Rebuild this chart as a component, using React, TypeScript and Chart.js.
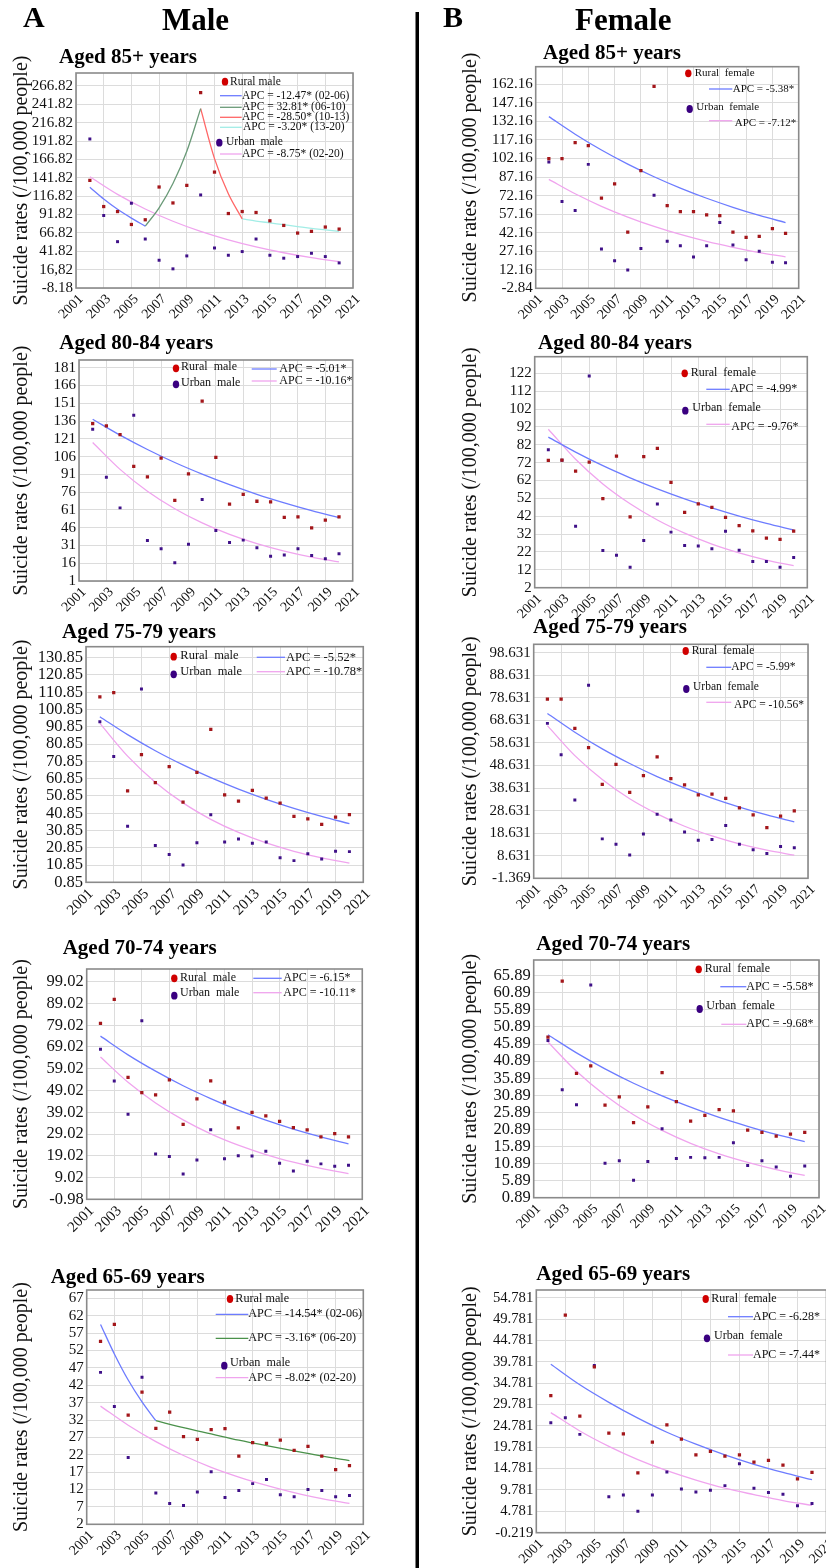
import React, { useEffect, useRef } from "react";
import { Chart, registerables } from "chart.js";

Chart.register(...registerables);

const FONT = '"Liberation Serif", "Times New Roman", Times, serif';

// ---------- shared axis data ----------
const years = [2002, 2003, 2004, 2005, 2006, 2007, 2008, 2009, 2010, 2011, 2012, 2013, 2014, 2015, 2016, 2017, 2018, 2019, 2020];
const evenYears = [2002, 2004, 2006, 2008, 2010, 2012, 2014, 2016, 2018, 2020];
const xTickYears = [2001, 2003, 2005, 2007, 2009, 2011, 2013, 2015, 2017, 2019, 2021];
const yTitle = "Suicide rates (/100,000 people)";

// ---------- Male, aged 85+ ----------
const m85Ticks = ["-8.18", "16,82", "41.82", "66.82", "91.82", "116.82", "141.82", "166.82", "191.82", "216.82", "241.82", "266.82"];
const m85Rural = [138.3, 102.7, 95.9, 78.3, 84.7, 129.3, 107.6, 131.5, 257.8, 149.6, 93.2, 95.9, 94.6, 83.3, 77.0, 66.6, 68.9, 74.8, 72.0];
const m85Urban = [194.7, 90.5, 54.9, 107.2, 58.5, 29.6, 17.9, 35.5, 118.5, 46.3, 36.4, 41.4, 58.5, 36.4, 32.4, 34.6, 39.1, 34.6, 26.0];
const m85FitYears1 = [2002, 2003, 2004, 2005, 2006];
const m85Fit1 = [129, 113, 99, 87, 76];
const m85FitYears2 = [2006, 2007, 2008, 2009, 2010];
const m85Fit2 = [76, 101, 134, 178, 236];
const m85FitYears3 = [2010, 2011, 2012, 2013];
const m85Fit3 = [236, 168, 120, 86];
const m85FitYears4 = [2013, 2014, 2015, 2016, 2017, 2018, 2019, 2020];
const m85Fit4 = [86, 83, 80.5, 78, 75.5, 73, 71, 69];
const m85UrbanFit = [143.3, 119.3, 99.4, 82.7, 68.9, 57.4, 47.8, 39.8, 33.1, 27.6];

// ---------- Female, aged 85+ ----------
const f85Ticks = ["-2.84", "12.16", "27.16", "42.16", "57.16", "72.16", "87.16", "102.16", "117.16", "132.16", "147.16", "162.16"];
const f85Rural = [102.0, 102.0, 115.0, 112.6, 70.0, 81.6, 42.5, 92.3, 160.5, 64.0, 59.2, 59.2, 56.5, 56.0, 42.5, 38.4, 39.2, 45.4, 41.6];
const f85Urban = [99.3, 67.3, 60.0, 97.4, 29.0, 19.5, 12.0, 29.3, 72.4, 35.2, 31.6, 22.5, 31.6, 50.3, 32.1, 20.3, 27.1, 18.2, 17.9];
const f85RuralFit = [136.0, 121.8, 109.0, 97.6, 87.4, 78.2, 70.0, 62.7, 56.1, 50.3];
const f85UrbanFit = [85.3, 73.6, 63.5, 54.8, 47.2, 40.7, 35.1, 30.3, 26.1, 22.6];

// ---------- Male, aged 80-84 ----------
const m80Ticks = ["1", "16", "31", "46", "61", "76", "91", "106", "121", "136", "151", "166", "181"];
const m80Rural = [133.9, 131.9, 124.6, 97.7, 88.8, 104.7, 69.1, 91.3, 152.7, 105.3, 65.8, 74.2, 68.3, 67.7, 54.6, 55.1, 45.9, 52.3, 55.1];
const m80Urban = [129.1, 88.5, 62.7, 140.9, 35.2, 28.2, 16.4, 32.1, 69.7, 43.6, 33.5, 35.5, 29.0, 21.8, 22.9, 28.2, 22.6, 19.8, 24.0];
const m80RuralFit = [137.5, 124.1, 112.0, 101.0, 91.2, 82.3, 74.2, 67.0, 60.4, 54.5];
const m80UrbanFit = [117.9, 95.2, 76.8, 62.0, 50.0, 40.4, 32.6, 26.3, 21.2, 17.1];

// ---------- Female, aged 80-84 ----------
const f80Ticks = ["2", "12", "22", "32", "42", "52", "62", "72", "82", "92", "102", "112", "122"];
const f80Rural = [73.3, 73.4, 67.3, 72.3, 51.9, 75.7, 41.6, 75.3, 80.0, 61.0, 44.2, 48.9, 47.0, 41.3, 36.8, 33.8, 29.7, 29.0, 33.6];
const f80Urban = [79.2, 73.4, 36.4, 120.5, 22.8, 20.2, 13.5, 28.4, 48.9, 33.1, 25.6, 25.3, 23.8, 33.6, 23.0, 16.7, 16.7, 13.5, 18.9];
const f80RuralFit = [86.3, 77.9, 70.3, 63.5, 57.3, 51.7, 46.7, 42.1, 38.0, 34.3];
const f80UrbanFit = [90.7, 73.9, 60.1, 49.0, 39.9, 32.5, 26.4, 21.5, 17.5, 14.3];

// ---------- Male, aged 75-79 ----------
const m75Ticks = ["0.85", "10.85", "20.85", "30.85", "40.85", "50.85", "60.85", "70.85", "80.85", "90.85", "100.85", "110.85", "120.85", "130.85"];
const m75Rural = [108.1, 110.6, 53.7, 74.7, 58.5, 67.8, 47.3, 64.5, 89.4, 51.4, 47.9, 54.1, 49.6, 46.7, 39.0, 37.5, 34.4, 38.5, 40.0];
const m75Urban = [93.8, 73.6, 33.3, 112.7, 22.1, 16.9, 10.9, 23.8, 40.0, 24.2, 25.9, 23.4, 24.2, 15.1, 13.4, 17.4, 14.3, 18.8, 18.6];
const m75RuralFit = [96.7, 86.3, 77.0, 68.8, 61.4, 54.8, 48.9, 43.7, 39.0, 34.8];
const m75UrbanFit = [92.8, 73.9, 58.8, 46.8, 37.3, 29.7, 23.6, 18.8, 15.0, 11.9];

// ---------- Female, aged 75-79 ----------
const f75Ticks = ["-1.369", "8.631", "18.631", "28.631", "38.631", "48.631", "58.631", "68.631", "78.631", "88.631", "98.631"];
const f75Rural = [78.1, 78.1, 65.1, 56.5, 40.3, 49.1, 36.7, 44.1, 52.5, 42.8, 40.0, 35.6, 35.9, 34.1, 29.9, 26.7, 21.1, 26.2, 28.5];
const f75Urban = [67.3, 53.4, 33.3, 84.2, 16.1, 13.7, 9.0, 18.3, 27.0, 24.5, 19.2, 15.5, 15.8, 22.0, 13.7, 11.3, 9.6, 12.7, 12.2];
const f75RuralFit = [71.7, 63.4, 56.0, 49.5, 43.7, 38.7, 34.2, 30.2, 26.7, 23.6];
const f75UrbanFit = [66.3, 53.0, 42.4, 33.9, 27.2, 21.7, 17.4, 13.9, 11.1, 8.9];

// ---------- Male, aged 70-74 ----------
const m70Ticks = ["-0.98", "9.02", "19.02", "29.02", "39.02", "49.02", "59.02", "69.02", "79.02", "89.02", "99.02"];
const m70Rural = [79.9, 90.9, 55.1, 48.0, 47.0, 53.9, 33.4, 45.2, 53.4, 43.7, 31.8, 39.0, 37.4, 34.8, 32.0, 30.9, 27.7, 29.2, 27.7];
const m70Urban = [68.0, 53.4, 38.1, 81.1, 19.8, 18.7, 10.6, 17.1, 31.0, 17.7, 19.0, 18.9, 21.1, 15.6, 12.0, 16.5, 15.3, 14.2, 14.7];
const m70RuralFit = [74.0, 65.4, 57.9, 51.2, 45.3, 40.0, 35.4, 31.3, 27.7, 24.5];
const m70UrbanFit = [64.4, 52.8, 43.3, 35.5, 29.1, 23.9, 19.6, 16.1, 13.2, 10.8];

// ---------- Female, aged 70-74 ----------
const f70Ticks = ["0.89", "5.89", "10.89", "15.89", "20.89", "25.89", "30.89", "35.89", "40.89", "45.89", "50.89", "55.89", "60.89", "65.89"];
const f70Rural = [47.9, 64.3, 37.3, 39.5, 28.0, 30.4, 22.9, 27.5, 37.5, 29.0, 23.3, 25.0, 26.7, 26.3, 20.7, 20.0, 18.9, 19.5, 20.0];
const f70Urban = [46.9, 32.5, 28.1, 63.2, 11.0, 11.7, 6.0, 11.5, 21.1, 12.4, 12.7, 12.6, 12.7, 17.0, 10.3, 11.7, 9.9, 7.2, 10.2];
const f70RuralFit = [48.6, 43.3, 38.6, 34.4, 30.7, 27.4, 24.4, 21.8, 19.4, 17.3];
const f70UrbanFit = [46.5, 37.9, 30.9, 25.2, 20.6, 16.8, 13.7, 11.2, 9.1, 7.4];

// ---------- Male, aged 65-69 ----------
const m65Ticks = ["2", "7", "12", "17", "22", "27", "32", "37", "42", "47", "52", "57", "62", "67"];
const m65Rural = [54.6, 59.5, 33.4, 40.0, 29.6, 34.3, 27.2, 26.4, 29.2, 29.5, 21.6, 25.5, 25.3, 26.2, 23.3, 24.4, 21.6, 17.7, 18.9];
const m65Urban = [45.7, 35.9, 21.2, 44.3, 11.0, 8.0, 7.4, 11.3, 17.1, 9.7, 11.7, 13.7, 14.9, 10.5, 9.9, 12.0, 11.7, 9.9, 10.3];
const m65FitYears1 = [2002, 2003, 2004, 2005, 2006];
const m65Fit1 = [59.5, 51.0, 43.5, 37.2, 31.8];
const m65FitYears2 = [2006, 2008, 2010, 2012, 2014, 2016, 2018, 2020];
const m65Fit2 = [31.8, 29.8, 28.0, 26.2, 24.6, 23.1, 21.6, 20.3];
const m65UrbanFit = [36.0, 30.5, 25.8, 21.8, 18.4, 15.6, 13.2, 11.1, 9.4, 8.0];

// ---------- Female, aged 65-69 ----------
const f65Ticks = ["-0.219", "4.781", "9.781", "14.781", "19.781", "24.781", "29.781", "34.781", "39.781", "44.781", "49.781", "54.781"];
const f65Rural = [31.9, 50.7, 27.1, 38.6, 23.1, 22.9, 13.8, 21.0, 25.0, 21.7, 18.0, 18.8, 17.7, 18.0, 16.3, 16.7, 15.6, 12.4, 13.9];
const f65Urban = [25.5, 26.7, 22.8, 38.9, 8.2, 8.6, 4.8, 8.6, 14.0, 10.0, 9.3, 9.7, 10.8, 15.9, 10.2, 9.2, 8.8, 6.1, 6.6];
const f65RuralFit = [39.2, 34.4, 30.3, 26.6, 23.3, 20.5, 18.0, 15.8, 13.9, 12.2];
const f65UrbanFit = [27.9, 23.6, 20.0, 16.9, 14.3, 12.1, 10.2, 8.7, 7.3, 6.2];

// ---------- styles ----------
const RURAL = "#a3161a";
const URBAN = "#3f1088";
const RURAL_KEY = "#d00000";
const URBAN_KEY = "#3a0080";
const BLUE = "#6d7cff";
const PINK = "#f0a4ee";
const GREEN = "#4a914a";
const GREEN2 = "#6a9a78";
const RED = "#ff6666";
const CYAN = "#a2ede6";
const FRAME = "#8a8a8a";
const GRID = "#dcdcdc";

const PAD_T = 34;
const PAD_R = 16;
const X_H = 44;

function dot(color: string, x: number, y: number, text: string, tx: number, ty?: number) {
  return { kind: "dot", color, x, y, x2: 0, text, tx, ty: ty === undefined ? y : ty };
}
function line(color: string, x: number, x2: number, y: number, text: string, tx: number, ty?: number) {
  return { kind: "line", color, x, y, x2, text, tx, ty: ty === undefined ? y : ty };
}
function fit(yrs: number[], values: number[], color: string) {
  return { yrs, values, color };
}

const panels: any[] = [
  {
    title: "Aged 85+ years", titleX: 59, titleY: 63,
    cx: 6, left: 76, top: 73, right: 353, bottom: 288, yMax: 284.5,
    ticks: m85Ticks, rural: m85Rural, urban: m85Urban, tickSize: 15, xSize: 14, legendSize: 11.5,
    fits: [fit(m85FitYears1, m85Fit1, BLUE), fit(m85FitYears2, m85Fit2, GREEN2), fit(m85FitYears3, m85Fit3, RED), fit(m85FitYears4, m85Fit4, CYAN), fit(evenYears, m85UrbanFit, PINK)],
    legend: [
      dot(RURAL_KEY, 149, 8.7, "Rural male", 154, 8.5),
      line(BLUE, 144, 165.7, 22.7, "APC = -12.47* (02-06)", 166),
      line(GREEN2, 144, 165.7, 34.3, "APC = 32.81* (06-10)", 166),
      line(RED, 144, 165.7, 44.3, "APC = -28.50* (10-13)", 166),
      line(CYAN, 144, 165.7, 54.3, "APC = -3.20* (13-20)", 167),
      dot(URBAN_KEY, 143.3, 69.7, "Urban  male", 150, 68.5),
      line(PINK, 144, 165.7, 81, "APC = -8.75* (02-20)", 166),
    ],
  },
  {
    title: "Aged 85+ years", titleX: 543, titleY: 59,
    cx: 455, left: 535.7, top: 66.7, right: 798.7, bottom: 288.3, yMax: 176.4,
    ticks: f85Ticks, rural: f85Rural, urban: f85Urban, tickSize: 15, xSize: 14, legendSize: 11,
    fits: [fit(evenYears, f85RuralFit, BLUE), fit(evenYears, f85UrbanFit, PINK)],
    legend: [
      dot(RURAL_KEY, 152.6, 6.6, "Rural  female", 159, 6.6),
      line(BLUE, 173.3, 196.6, 22.3, "APC = -5.38*", 197),
      dot(URBAN_KEY, 154, 42.3, "Urban  female", 160.6, 40),
      line(PINK, 173.3, 196.6, 54, "APC = -7.12*", 199, 56.3),
    ],
  },
  {
    title: "Aged 80-84 years", titleX: 59.3, titleY: 349,
    cx: 6, left: 79, top: 360, right: 352.7, bottom: 581, yMax: 187.5,
    ticks: m80Ticks, rural: m80Rural, urban: m80Urban, tickSize: 15, xSize: 14, legendSize: 12,
    fits: [fit(evenYears, m80RuralFit, BLUE), fit(evenYears, m80UrbanFit, PINK)],
    legend: [
      dot(RURAL_KEY, 97, 8.3, "Rural  male", 102, 7),
      dot(URBAN_KEY, 97, 24.3, "Urban  male", 102, 23),
      line(BLUE, 172.7, 197.7, 9, "APC = -5.01*", 200.3),
      line(PINK, 172.7, 197.7, 21, "APC = -10.16*", 200.3),
    ],
  },
  {
    title: "Aged 80-84 years", titleX: 538, titleY: 349,
    cx: 455, left: 534.7, top: 356.7, right: 807.3, bottom: 587.7, yMax: 131.3,
    ticks: f80Ticks, rural: f80Rural, urban: f80Urban, tickSize: 15, xSize: 14, legendSize: 12,
    fits: [fit(evenYears, f80RuralFit, BLUE), fit(evenYears, f80UrbanFit, PINK)],
    legend: [
      dot(RURAL_KEY, 150, 16.6, "Rural  female", 156, 16),
      line(BLUE, 171.6, 195, 32.6, "APC = -4.99*", 195.5),
      dot(URBAN_KEY, 150.6, 54, "Urban  female", 157.6, 51.6),
      line(PINK, 171.6, 195, 67.6, "APC = -9.76*", 196.6, 70),
    ],
  },
  {
    title: "Aged 75-79 years", titleX: 62, titleY: 638,
    cx: 6, left: 86, top: 646.7, right: 363.3, bottom: 882.3, yMax: 137.2,
    ticks: m75Ticks, rural: m75Rural, urban: m75Urban, tickSize: 16.5, xSize: 15, legendSize: 12.5,
    fits: [fit(evenYears, m75RuralFit, BLUE), fit(evenYears, m75UrbanFit, PINK)],
    legend: [
      dot(RURAL_KEY, 87.7, 10, "Rural  male", 94.3, 9),
      dot(URBAN_KEY, 87.7, 27.6, "Urban  male", 94.3, 25.5),
      line(BLUE, 170.7, 199, 10.6, "APC = -5.52*", 200),
      line(PINK, 170.7, 199, 25, "APC = -10.78*", 200),
    ],
  },
  {
    title: "Aged 75-79 years", titleX: 533, titleY: 633.3,
    cx: 455, left: 533.7, top: 644.3, right: 808, bottom: 878.3, yMax: 102.35,
    ticks: f75Ticks, rural: f75Rural, urban: f75Urban, tickSize: 15, xSize: 14, legendSize: 11.5,
    fits: [fit(evenYears, f75RuralFit, BLUE), fit(evenYears, f75UrbanFit, PINK)],
    legend: [
      dot(RURAL_KEY, 152, 6.7, "Rural  female", 158, 6.7),
      line(BLUE, 172.6, 197.6, 23, "APC = -5.99*", 197.6),
      dot(URBAN_KEY, 152.6, 44.7, "Urban  female", 159.3, 42.4),
      line(PINK, 172.6, 197.6, 58, "APC = -10.56*", 200.3, 60.7),
    ],
  },
  {
    title: "Aged 70-74 years", titleX: 62.7, titleY: 954.3,
    cx: 6, left: 86.7, top: 969, right: 362.3, bottom: 1199.3, yMax: 104.86,
    ticks: m70Ticks, rural: m70Rural, urban: m70Urban, tickSize: 16.5, xSize: 15, legendSize: 12,
    fits: [fit(evenYears, m70RuralFit, BLUE), fit(evenYears, m70UrbanFit, PINK)],
    legend: [
      dot(RURAL_KEY, 87.6, 9.3, "Rural  male", 93.3, 8.5),
      dot(URBAN_KEY, 87.6, 26.7, "Urban  male", 93.3, 24),
      line(BLUE, 166.6, 195, 9.3, "APC = -6.15*", 196.6),
      line(PINK, 166.6, 195, 23.7, "APC = -10.11*", 196.6),
    ],
  },
  {
    title: "Aged 70-74 years", titleX: 536.3, titleY: 950,
    cx: 455, left: 533.7, top: 960, right: 819, bottom: 1197.7, yMax: 70.5,
    ticks: f70Ticks, rural: f70Rural, urban: f70Urban, tickSize: 16.5, xSize: 14, legendSize: 12,
    fits: [fit(evenYears, f70RuralFit, BLUE), fit(evenYears, f70UrbanFit, PINK)],
    legend: [
      dot(RURAL_KEY, 165, 9.3, "Rural  female", 171, 8.5),
      line(BLUE, 186.6, 212.6, 26.7, "APC = -5.58*", 212.6),
      dot(URBAN_KEY, 166, 49, "Urban  female", 172.6, 46),
      line(PINK, 187.6, 212.6, 64.3, "APC = -9.68*", 212.6),
    ],
  },
  {
    title: "Aged 65-69 years", titleX: 50.7, titleY: 1283.3,
    cx: 6, left: 86.7, top: 1290, right: 363.3, bottom: 1524.3, yMax: 69.4,
    ticks: m65Ticks, rural: m65Rural, urban: m65Urban, tickSize: 15, xSize: 14, legendSize: 12.2,
    fits: [fit(m65FitYears1, m65Fit1, BLUE), fit(m65FitYears2, m65Fit2, GREEN), fit(evenYears, m65UrbanFit, PINK)],
    legend: [
      dot(RURAL_KEY, 143.3, 9, "Rural male", 148.6, 8.5),
      line(BLUE, 129, 161.6, 24.3, "APC = -14.54* (02-06)", 161.6),
      line(GREEN, 129, 161.6, 48.3, "APC = -3.16* (06-20)", 161.6),
      dot(URBAN_KEY, 137.6, 75.7, "Urban  male", 143.3, 73),
      line(PINK, 129, 161.6, 87.7, "APC = -8.02* (02-20)", 161.6),
    ],
  },
  {
    title: "Aged 65-69 years", titleX: 536.3, titleY: 1280,
    cx: 455, left: 536.3, top: 1290, right: 826.5, bottom: 1532.7, yMax: 56.6,
    ticks: f65Ticks, rural: f65Rural, urban: f65Urban, tickSize: 14.7, xSize: 14, legendSize: 12,
    fits: [fit(evenYears, f65RuralFit, BLUE), fit(evenYears, f65UrbanFit, PINK)],
    legend: [
      dot(RURAL_KEY, 169.4, 9, "Rural  female", 175, 8.5),
      line(BLUE, 191.7, 216.7, 26.7, "APC = -6.28*", 216.7),
      dot(URBAN_KEY, 170.7, 48.3, "Urban  female", 177.7, 46),
      line(PINK, 191.7, 216.7, 65, "APC = -7.44*", 216.7),
    ],
  },
];

function PanelChart({ p }: { p: any }) {
  const ref = useRef<HTMLCanvasElement | null>(null);
  const canvasTop = Math.round(p.top - PAD_T);
  const cw = Math.round(p.right + PAD_R - p.cx);
  const ch = Math.round(p.bottom + X_H - canvasTop);

  useEffect(() => {
    const canvas = ref.current;
    if (!canvas) return;
    const tickVals = p.ticks.map((t: string) => parseFloat(t.replace(",", ".")));
    const labelOf = new Map<number, string>();
    tickVals.forEach((v: number, i: number) => labelOf.set(v, p.ticks[i]));

    const datasets: any[] = [
      ...p.fits.map((f: any) => ({
        data: f.yrs.map((x: number, i: number) => ({ x, y: f.values[i] })),
        showLine: true,
        borderColor: f.color,
        borderWidth: 1.3,
        pointRadius: 0,
        fill: false,
        cubicInterpolationMode: "monotone",
        order: 2,
      })),
      {
        data: years.map((x, i) => ({ x, y: p.rural[i] })),
        showLine: false,
        pointStyle: "rect",
        pointRadius: 2.3,
        pointBackgroundColor: RURAL,
        pointBorderWidth: 0,
        order: 1,
      },
      {
        data: years.map((x, i) => ({ x, y: p.urban[i] })),
        showLine: false,
        pointStyle: "rect",
        pointRadius: 2.1,
        pointBackgroundColor: URBAN,
        pointBorderWidth: 0,
        order: 1,
      },
    ];

    const decor = {
      id: "decor",
      afterDraw(chart: any) {
        const { ctx, chartArea: a } = chart;
        ctx.save();
        ctx.strokeStyle = FRAME;
        ctx.lineWidth = 1.6;
        ctx.strokeRect(a.left, a.top, a.right - a.left, a.bottom - a.top);
        ctx.font = `${p.legendSize}px ${FONT}`;
        ctx.textBaseline = "middle";
        ctx.textAlign = "left";
        for (const it of p.legend) {
          if (it.kind === "dot") {
            ctx.fillStyle = it.color;
            ctx.beginPath();
            ctx.ellipse(a.left + it.x, a.top + it.y, 3.2, 3.9, 0, 0, Math.PI * 2);
            ctx.fill();
          } else {
            ctx.strokeStyle = it.color;
            ctx.lineWidth = 1.3;
            ctx.beginPath();
            ctx.moveTo(a.left + it.x, a.top + it.y);
            ctx.lineTo(a.left + it.x2, a.top + it.y);
            ctx.stroke();
          }
          ctx.fillStyle = "#111";
          ctx.fillText(it.text, a.left + it.tx, a.top + it.ty);
        }
        ctx.restore();
      },
    };

    const chart = new Chart(canvas, {
      type: "scatter",
      data: { datasets },
      options: {
        animation: false,
        responsive: false,
        devicePixelRatio: 1,
        events: [],
        layout: { padding: { top: p.top - canvasTop, right: cw - (p.right - p.cx), left: 0, bottom: 0 } },
        plugins: { legend: { display: false }, tooltip: { enabled: false }, title: { display: false } },
        scales: {
          x: {
            type: "linear",
            min: 2001,
            max: 2021,
            afterBuildTicks: (s: any) => {
              s.ticks = xTickYears.map((v) => ({ value: v }));
            },
            afterFit: (s: any) => {
              s.height = ch - (p.bottom - canvasTop);
            },
            grid: { color: GRID, drawTicks: false, lineWidth: 1 },
            border: { display: false },
            ticks: {
              autoSkip: false,
              minRotation: 45,
              maxRotation: 45,
              padding: 3,
              labelOffset: 5,
              color: "#111",
              font: { family: FONT, size: p.xSize },
              callback: (v: any) => String(v),
            },
          },
          y: {
            type: "linear",
            min: tickVals[0],
            max: p.yMax,
            afterBuildTicks: (s: any) => {
              s.ticks = tickVals.map((v: number) => ({ value: v }));
            },
            afterFit: (s: any) => {
              s.width = p.left - p.cx;
            },
            grid: { color: GRID, drawTicks: false, lineWidth: 1 },
            border: { display: false },
            ticks: {
              autoSkip: false,
              padding: 3,
              color: "#111",
              font: { family: FONT, size: p.tickSize },
              callback: (v: any) => labelOf.get(v) ?? String(v),
            },
            title: {
              display: true,
              text: yTitle,
              color: "#111",
              font: { family: FONT, size: 20 },
              padding: { top: 4, bottom: 0 },
            },
          },
        },
      } as any,
      plugins: [decor],
    } as any);
    return () => chart.destroy();
  }, [p]);

  return (
    <canvas
      ref={ref}
      width={cw}
      height={ch}
      style={{ position: "absolute", left: p.cx, top: canvasTop, width: cw, height: ch }}
    />
  );
}

export default function App() {
  return (
    <div
      style={{
        position: "absolute",
        left: 0,
        top: 0,
        width: 826,
        height: 1568,
        overflow: "hidden",
        background: "#fff",
      }}
    >
      {panels.map((p, i) => (
        <PanelChart key={i} p={p} />
      ))}
      <svg
        width={826}
        height={1568}
        style={{ position: "absolute", left: 0, top: 0, pointerEvents: "none" }}
      >
        <text x={23} y={27} fontFamily={FONT} fontWeight="bold" fontSize={30} fill="#000">A</text>
        <text x={162} y={29.5} fontFamily={FONT} fontWeight="bold" fontSize={31} fill="#000">Male</text>
        <text x={443} y={27} fontFamily={FONT} fontWeight="bold" fontSize={30} fill="#000">B</text>
        <text x={575} y={29.5} fontFamily={FONT} fontWeight="bold" fontSize={31} fill="#000">Female</text>
        <rect x={415.5} y={12} width={3.5} height={1556} fill="#000" />
        {panels.map((p, i) => (
          <text key={i} x={p.titleX} y={p.titleY} fontFamily={FONT} fontWeight="bold" fontSize={21} fill="#000">
            {p.title}
          </text>
        ))}
      </svg>
    </div>
  );
}
